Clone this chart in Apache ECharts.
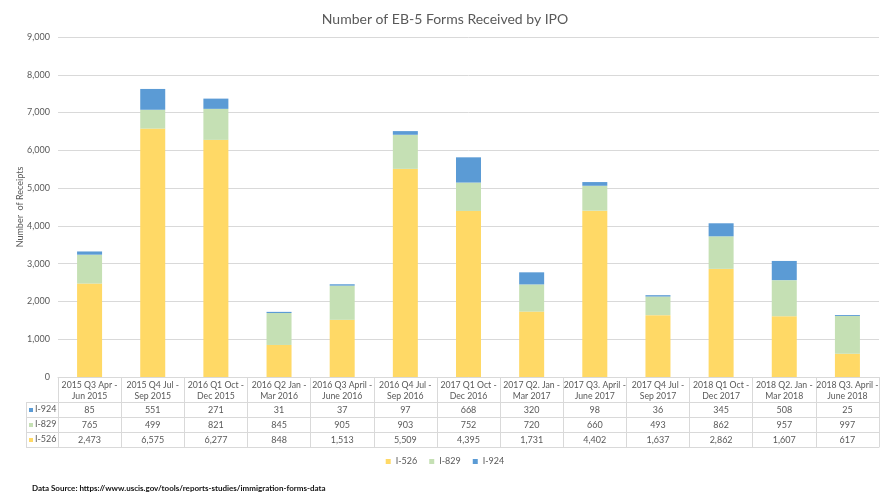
<!DOCTYPE html>
<html>
<head>
<meta charset="utf-8">
<script src="https://cdn.jsdelivr.net/npm/echarts@6/dist/echarts.min.js"></script>
<style>
  html, body { margin: 0; padding: 0; background: #fff; }
  #chart { width: 890px; height: 500px; }
</style>
</head>
<body>
<div id="chart"></div>
<script>
// quarters shown on the x axis
var categories = [
  '2015 Q3 Apr - Jun 2015', '2015 Q4 Jul - Sep 2015', '2016 Q1 Oct - Dec 2015',
  '2016 Q2 Jan - Mar 2016', '2016 Q3 April - June 2016', '2016 Q4 Jul - Sep 2016',
  '2017 Q1 Oct - Dec 2016', '2017 Q2. Jan - Mar 2017', '2017 Q3. April - June 2017',
  '2017 Q4 Jul - Sep 2017', '2018 Q1 Oct - Dec 2017', '2018 Q2. Jan - Mar 2018',
  '2018 Q3. April - June 2018'
];
var i526 = [2473, 6575, 6277, 848, 1513, 5509, 4395, 1731, 4402, 1637, 2862, 1607, 617];
var i829 = [765, 499, 821, 845, 905, 903, 752, 720, 660, 493, 862, 957, 997];
var i924 = [85, 551, 271, 31, 37, 97, 668, 320, 98, 36, 345, 508, 25];
var yTicks = [0, 1000, 2000, 3000, 4000, 5000, 6000, 7000, 8000, 9000];

var COL = { i526: '#FFD966', i829: '#C5E0B4', i924: '#5B9BD5' };
var FONT = 'Lato, "Noto Sans", sans-serif';
var TXT = '#595959';
var LINE = '#D9D9D9';

function fmt(n) {
  return String(n).replace(/\B(?=(\d{3})+(?!\d))/g, ',');
}

var chart = echarts.init(document.getElementById('chart'));

// one extra x axis per row of the data table underneath the plot
function rowAxis(offset, data) {
  return {
    type: 'category',
    data: categories,
    position: 'bottom',
    offset: offset,
    axisLine: { show: true, lineStyle: { color: LINE } },
    axisTick: { show: false },
    splitLine: { show: false },
    axisLabel: {
      show: !!data,
      interval: 0,
      margin: 2,
      fontFamily: FONT,
      fontSize: 9,
      color: TXT,
      lineHeight: 13,
      formatter: function (v, idx) { return data ? fmt(data[idx]) : ''; }
    }
  };
}

// row headers of the table: swatch + series name
function rowHead(y, name, color) {
  return [
    { type: 'rect', shape: { x: 29, y: y + 3, width: 4, height: 4 }, style: { fill: color } },
    { type: 'text', left: 35, top: y, style: { text: name, fontFamily: FONT, fontSize: 9, fill: TXT } }
  ];
}

var option = {
  animation: false,
  textStyle: { fontFamily: FONT },
  title: {
    text: 'Number of EB-5 Forms Received by IPO',
    left: 'center',
    top: 7,
    textStyle: { fontFamily: FONT, fontSize: 14, fontWeight: 'normal', color: TXT }
  },
  legend: {
    bottom: 29,
    left: 'center',
    icon: 'rect',
    itemWidth: 5,
    itemHeight: 5,
    itemGap: 12,
    textStyle: { fontFamily: FONT, fontSize: 9, color: TXT },
    data: ['I-526', 'I-829', 'I-924']
  },
  grid: { left: 58, right: 11, top: 37, bottom: 123, containLabel: false },
  xAxis: [
    {
      type: 'category',
      data: categories,
      position: 'bottom',
      axisLine: { show: true, lineStyle: { color: LINE } },
      axisTick: { show: true, length: 70, interval: 0, lineStyle: { color: LINE } },
      axisLabel: {
        interval: 0,
        margin: 3,
        fontFamily: FONT,
        fontSize: 8.7,
        color: TXT,
        lineHeight: 11,
        formatter: function (v) { return v.replace(' - ', ' -\n'); }
      }
    },
    rowAxis(25, i924),
    rowAxis(40, i829),
    rowAxis(55, i526),
    rowAxis(70, null)
  ],
  yAxis: {
    type: 'value',
    min: yTicks[0],
    max: yTicks[yTicks.length - 1],
    interval: 1000,
    name: 'Number  of Receipts',
    nameLocation: 'middle',
    nameRotate: 90,
    nameGap: 38,
    nameMoveOverlap: false,
    nameTextStyle: { fontFamily: FONT, fontSize: 9, color: TXT, verticalAlign: 'middle' },
    axisLine: { show: false },
    axisTick: { show: false },
    splitLine: { lineStyle: { color: LINE } },
    axisLabel: {
      margin: 8,
      fontFamily: FONT,
      fontSize: 9,
      color: TXT,
      formatter: function (v) { return fmt(v); }
    }
  },
  series: [
    { name: 'I-526', type: 'bar', stack: 'ipo', barWidth: 25, data: i526, itemStyle: { color: COL.i526 } },
    { name: 'I-829', type: 'bar', stack: 'ipo', barWidth: 25, data: i829, itemStyle: { color: COL.i829 } },
    { name: 'I-924', type: 'bar', stack: 'ipo', barWidth: 25, data: i924, itemStyle: { color: COL.i924 } }
  ],
  graphic: [
    // left label column of the data table
    { type: 'line', shape: { x1: 26, y1: 402.5, x2: 58, y2: 402.5 }, style: { stroke: LINE } },
    { type: 'line', shape: { x1: 26, y1: 417.5, x2: 58, y2: 417.5 }, style: { stroke: LINE } },
    { type: 'line', shape: { x1: 26, y1: 432.5, x2: 58, y2: 432.5 }, style: { stroke: LINE } },
    { type: 'line', shape: { x1: 26, y1: 447.5, x2: 58, y2: 447.5 }, style: { stroke: LINE } },
    { type: 'line', shape: { x1: 26.5, y1: 402, x2: 26.5, y2: 448 }, style: { stroke: LINE } }
  ].concat(
    rowHead(405, 'I-924', COL.i924),
    rowHead(420, 'I-829', COL.i829),
    rowHead(435, 'I-526', COL.i526),
    [{
      type: 'text', left: 32, top: 484,
      style: {
        text: 'Data Source: https://www.uscis.gov/tools/reports-studies/immigration-forms-data',
        fontFamily: FONT, fontSize: 8, fontWeight: 'bold', fill: '#111'
      }
    }]
  )
};

chart.setOption(option);
</script>
</body>
</html>
